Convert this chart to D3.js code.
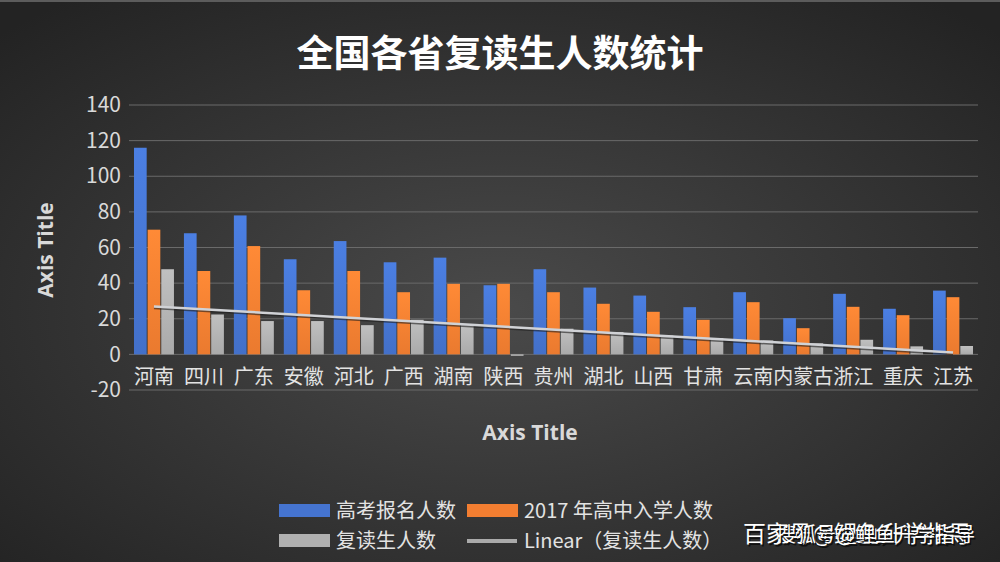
<!DOCTYPE html>
<html lang="zh">
<head>
<meta charset="UTF-8">
<title>全国各省复读生人数统计</title>
<style>
  html, body { margin: 0; padding: 0; background: #333; }
  svg { display: block; }
  text { font-family: "Noto Sans CJK SC", "Noto Sans", sans-serif; }
</style>
</head>
<body>
<svg width="1000" height="562"></svg>
<script src="https://cdn.jsdelivr.net/npm/d3@7"></script>
<script>
// data (units: 万人)
var provinces = ["河南", "四川", "广东", "安徽", "河北", "广西", "湖南", "陕西", "贵州",
                 "湖北", "山西", "甘肃", "云南", "内蒙古", "浙江", "重庆", "江苏"];
var gaokao = [116, 68, 78, 53.4, 63.6, 51.7, 54.3, 38.8, 47.8, 37.5, 33, 26.5, 34.9, 20.3, 34, 25.6, 35.8];
var gaozhong = [70, 46.8, 60.8, 36, 46.8, 34.9, 39.6, 39.6, 34.9, 28.4, 23.9, 19.4, 29.3, 14.7, 26.7, 22, 32.1];
var fudu = [47.8, 22.4, 18.7, 18.7, 16.4, 19.4, 16.6, -0.8, 14.4, 12.5, 10.6, 9.1, 7.8, 6.2, 8.2, 4.5, 4.7];
var yTicks = [-20, 0, 20, 40, 60, 80, 100, 120, 140];
var seriesNames = ["高考报名人数", "2017 年高中入学人数", "复读生人数"];
var seriesColors = ["#4574d0", "#f37e31", "#b0b0b0"];

var svg = d3.select("svg");
var W = 1000, H = 562;
var margin = { left: 129, right: 22, top: 105, bottom: 172 };

// background
var defs = svg.append("defs");
var bg = defs.append("radialGradient").attr("id", "bg")
    .attr("cx", "50%").attr("cy", "55%").attr("r", "70%");
bg.append("stop").attr("offset", "0%").attr("stop-color", "#4a4a4a");
bg.append("stop").attr("offset", "100%").attr("stop-color", "#232323");
svg.append("rect").attr("width", W).attr("height", H).attr("fill", "url(#bg)");
svg.append("rect").attr("width", W).attr("height", 2).attr("fill", "#5c5c5c");

// gradients for the bars
seriesColors.forEach(function (c, i) {
    var g = defs.append("linearGradient").attr("id", "bar" + i)
        .attr("x1", 0).attr("y1", 0).attr("x2", 0).attr("y2", 1);
    g.append("stop").attr("offset", "0%").attr("stop-color", d3.color(c).brighter(0.25));
    g.append("stop").attr("offset", "100%").attr("stop-color", d3.color(c).darker(0.1));
});

var x0 = d3.scaleBand()
    .domain(provinces)
    .range([margin.left, W - margin.right])
    .paddingInner(0.2)
    .paddingOuter(0.1);

var x1 = d3.scaleBand()
    .domain([0, 1, 2])
    .range([0, x0.bandwidth()])
    .paddingInner(0.07);

var y = d3.scaleLinear()
    .domain([-20, 140])
    .range([H - margin.bottom, margin.top]);

// gridlines
svg.append("g")
    .selectAll("line")
    .data(yTicks)
    .enter().append("line")
    .attr("x1", margin.left)
    .attr("x2", W - margin.right)
    .attr("y1", function (d) { return y(d); })
    .attr("y2", function (d) { return y(d); })
    .attr("stroke", "#6a6a6a")
    .attr("stroke-width", 1);

// y axis labels
var yAxis = svg.append("g")
    .attr("transform", "translate(" + (margin.left - 6) + ",0)")
    .call(d3.axisLeft(y).tickValues(yTicks).tickSize(0).tickPadding(2)
        .tickFormat(function (d) { return String(d); }));
yAxis.select(".domain").remove();
yAxis.selectAll("text")
    .attr("fill", "#d9d9d9")
    .style("font-size", "21px");

// bars
var rows = provinces.map(function (p, i) {
    return { name: p, vals: [gaokao[i], gaozhong[i], fudu[i]] };
});

var groups = svg.append("g")
    .selectAll("g")
    .data(rows)
    .enter().append("g")
    .attr("transform", function (d) { return "translate(" + x0(d.name) + ",0)"; });

groups.selectAll("rect")
    .data(function (d) { return d.vals.map(function (v, k) { return { k: k, v: v }; }); })
    .enter().append("rect")
    .attr("x", function (d) { return x1(d.k); })
    .attr("width", x1.bandwidth())
    .attr("y", function (d) { return y(Math.max(0, d.v)); })
    .attr("height", function (d) { return Math.max(1.5, Math.abs(y(d.v) - y(0))); })
    .attr("fill", function (d) { return "url(#bar" + d.k + ")"; });

// linear trendline of 复读生人数 (least squares)
var n = fudu.length;
var mx = d3.mean(d3.range(n)), my = d3.mean(fudu);
var sxy = d3.sum(fudu, function (v, i) { return (i - mx) * (v - my); });
var sxx = d3.sum(d3.range(n), function (i) { return (i - mx) * (i - mx); });
var slope = sxy / sxx, icpt = my - slope * mx;
var trend = [0, n - 1].map(function (i) { return { i: i, v: icpt + slope * i }; });
var cx = function (i) { return x0(provinces[i]) + x0.bandwidth() / 2; };

var line = d3.line()
    .x(function (d) { return cx(d.i); })
    .y(function (d) { return y(d.v); });

svg.append("path").datum(trend)
    .attr("d", line)
    .attr("fill", "none")
    .attr("stroke", "#1e1e1e")
    .attr("stroke-opacity", 0.6)
    .attr("stroke-width", 2.5)
    .attr("transform", "translate(0,1.5)");
svg.append("path").datum(trend)
    .attr("d", line)
    .attr("fill", "none")
    .attr("stroke", "#d0d2d6")
    .attr("stroke-width", 2.5);

// category labels
svg.append("g")
    .selectAll("text")
    .data(provinces)
    .enter().append("text")
    .attr("x", function (d) { return x0(d) + x0.bandwidth() / 2; })
    .attr("y", y(0) + 30)
    .attr("text-anchor", "middle")
    .attr("fill", "#e3e3e3")
    .style("font-size", "20px")
    .text(function (d) { return d; });

// title
svg.append("text")
    .attr("x", 500).attr("y", 67)
    .attr("text-anchor", "middle")
    .attr("fill", "#ffffff")
    .style("font-size", "37px")
    .style("font-weight", "bold")
    .text("全国各省复读生人数统计");

// axis titles
svg.append("text")
    .attr("x", 530).attr("y", 440)
    .attr("text-anchor", "middle")
    .attr("fill", "#d9d9d9")
    .style("font-size", "21px")
    .style("font-weight", "bold")
    .style("font-family", "'Open Sans', sans-serif")
    .text("Axis Title");

svg.append("text")
    .attr("transform", "translate(53,250) rotate(-90)")
    .attr("text-anchor", "middle")
    .attr("fill", "#d9d9d9")
    .style("font-size", "21px")
    .style("font-weight", "bold")
    .style("font-family", "'Open Sans', sans-serif")
    .text("Axis Title");

// legend
var legendItems = [
    { label: seriesNames[0], type: "rect", color: seriesColors[0], x: 279, y: 511 },
    { label: seriesNames[1], type: "rect", color: seriesColors[1], x: 467, y: 511 },
    { label: seriesNames[2], type: "rect", color: seriesColors[2], x: 279, y: 541 },
    { label: "Linear（复读生人数）", type: "line", color: "#aaaaaa", x: 467, y: 541 }
];
var lg = svg.append("g").selectAll("g")
    .data(legendItems)
    .enter().append("g")
    .attr("transform", function (d) { return "translate(" + d.x + "," + d.y + ")"; });

lg.filter(function (d) { return d.type === "rect"; })
    .append("rect")
    .attr("x", 0).attr("y", -7)
    .attr("width", 51).attr("height", 13)
    .attr("fill", function (d) { return d.color; });
lg.filter(function (d) { return d.type === "line"; })
    .append("line")
    .attr("x1", 0).attr("x2", 50)
    .attr("y1", 0).attr("y2", 0)
    .attr("stroke", function (d) { return d.color; })
    .attr("stroke-width", 4);
lg.append("text")
    .attr("x", 57).attr("y", 7)
    .attr("fill", "#e3e3e3")
    .style("font-size", "20px")
    .text(function (d) { return d.label; });

// watermark (two stamps overlap in the source image)
var wm = [
    { t: "百家号@鲤鱼升学指导", x: 743, size: 23 },
    { t: "搜狐号@鲤鱼升学指导", x: 776, size: 20 }
];
wm.forEach(function (w) {
    svg.append("text")
        .attr("x", w.x + 1.5).attr("y", 543.5)
        .attr("fill", "#111")
        .style("font-size", w.size + "px")
        .text(w.t);
    svg.append("text")
        .attr("x", w.x).attr("y", 542)
        .attr("fill", "#ffffff")
        .style("font-size", w.size + "px")
        .text(w.t);
});
</script>
</body>
</html>
